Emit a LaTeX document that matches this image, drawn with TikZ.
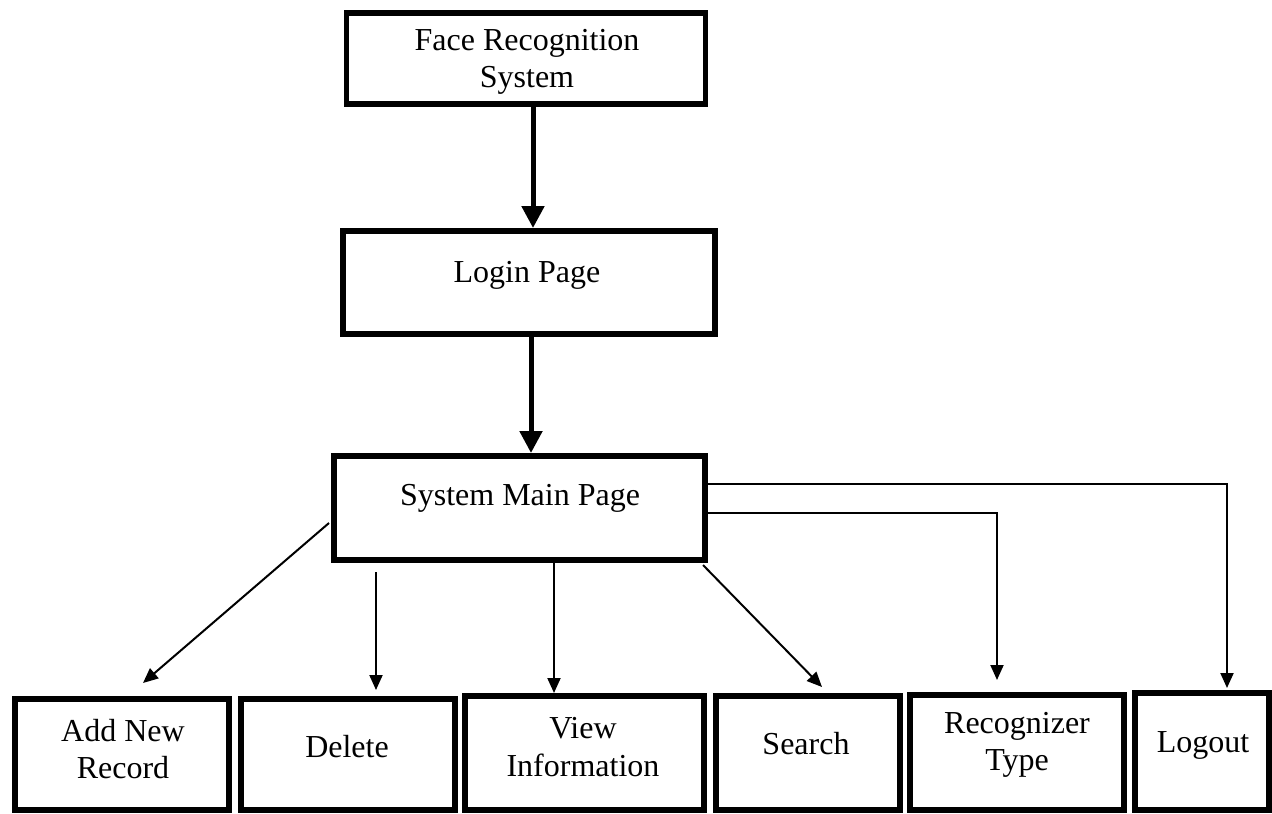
\documentclass[tikz,border=0pt]{standalone}
\usepackage{fontspec}
\setmainfont{Liberation Serif}
\usetikzlibrary{arrows.meta,calc}
\begin{document}
\begin{tikzpicture}[x=1pt,y=-1pt,
  box/.style={draw, line width=5.5pt, inner sep=0pt, outer sep=0pt},
  lbl/.style={font=\fontsize{32}{37.5}\selectfont, align=center, inner sep=0pt},
  heavy/.style={line width=5pt, -{Triangle[length=22pt,width=22pt]}},
  light/.style={line width=2pt, -{Triangle[length=15pt,width=13pt]}}]
\useasboundingbox (0,0) rectangle (1272,814);

% main chain
\node[box, minimum width=359pt, minimum height=91pt]  (face)  at (526,58.5)  {};
\node[box, minimum width=372pt, minimum height=103pt] (login) at (529,282.5) {};
\node[box, minimum width=371pt, minimum height=104pt] (main)  at (519.5,508) {};

% function boxes
\node[box, minimum width=214pt, minimum height=111pt] (add)    at (122,754.5)  {};
\node[box, minimum width=214pt, minimum height=111pt] (del)    at (348,754.5)  {};
\node[box, minimum width=239pt, minimum height=114pt] (view)   at (584.5,753)  {};
\node[box, minimum width=184pt, minimum height=114pt] (search) at (808,753)    {};
\node[box, minimum width=214pt, minimum height=115pt] (recog)  at (1017,752.5) {};
\node[box, minimum width=134pt, minimum height=117pt] (logout) at (1202,751.5) {};

% labels
\node[lbl] (face-t) at (527,62) {Face Recognition\\System};
\node[lbl, anchor=base] (login-t) at (527,282) {Login Page};
\node[lbl, anchor=base] (main-t) at (520,505) {System Main Page};
\node[lbl] (add-t) at (123,749) {Add New\\Record};
\node[lbl, anchor=base] (del-t) at (347,757) {Delete};
\node[lbl] (view-t) at (583,747) {View\\Information};
\node[lbl, anchor=base] (search-t) at (806,754) {Search};
\node[lbl] (recog-t) at (1017,745) {Recognizer\\Type};
\node[lbl, anchor=base] (logout-t) at (1203,752) {Logout};

% heavy arrows
\coordinate (a1) at ($(face.south)+(7,0)$);
\draw[heavy, shorten >=3pt] (a1) -- (a1 |- login.north);
\coordinate (a2) at ($(login.south)+(2,0)$);
\draw[heavy, shorten >=3pt] (a2) -- (a2 |- main.north);

% branches
\draw[light] ($(main.west)+(-5,15)$) -- ($(add.north)+(21,-16)$);
\coordinate (b1) at ($(main.south west)+(42,12)$);
\draw[light, shorten >=9pt] (b1) -- (b1 |- del.north);
\coordinate (b2) at ($(main.south west)+(220,0)$);
\draw[light, shorten >=3pt] (b2) -- (b2 |- view.north);
\draw[light] ($(main.south east)+(-2,5)$) -- ($(search.north)+(14,-9)$);
\draw[light, shorten >=15pt] ($(main.east)+(0,5)$) -| ($(recog.north)+(-20,0)$);
\draw[light, shorten >=5pt] ($(main.east)+(0,-24)$) -| ($(logout.north)+(25,0)$);
\end{tikzpicture}
\end{document}
